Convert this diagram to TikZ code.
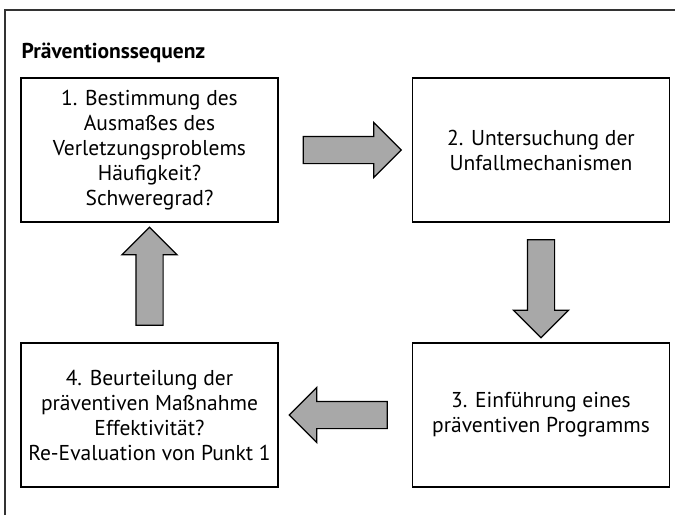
\documentclass[tikz,border=0pt]{standalone}
\usepackage{fontspec}
\setmainfont{PT Sans}
\usetikzlibrary{shapes.arrows}

\begin{document}
\begin{tikzpicture}[
  x=1pt, y=1pt,
  box/.style={rectangle, draw, line width=1.2pt, minimum width=257pt, minimum height=144pt,
    align=center, font=\fontsize{21.5}{25}\selectfont},
  flow/.style={single arrow, draw, line width=1.2pt, fill=black!34, inner sep=13pt,
    minimum height=98pt, single arrow head extend=14pt, single arrow tip angle=90},
  node distance=391.5pt
]
\useasboundingbox (0,0) rectangle (675,-515);
\draw[line width=1.3pt, black!80] (5,-515) |- (675,-10);

\node[box] (b1) at (149.5,-150) {1. Bestimmung des\\Ausmaßes des\\Verletzungsproblems\\Häufigkeit?\\Schweregrad?};
\node[box, right of=b1] (b2) {2. Untersuchung der\\Unfallmechanismen};
\node[box, below of=b2, node distance=265pt] (b3) {3. Einführung eines\\präventiven Programms};
\node[box, left of=b3] (b4) {4. Beurteilung der\\präventiven Maßnahme\\Effektivität?\\Re-Evaluation von Punkt 1};

\node[anchor=base west, inner sep=0pt, font=\fontsize{21.5}{25}\selectfont\bfseries] (title)
  at ([xshift=1pt, yshift=19pt]b1.north west) {Präventionssequenz};

\node[flow, right of=b1, node distance=196pt] (a1) {};
\node[flow, shape border rotate=270, below of=b2, node distance=132pt] (a2) {};
\node[flow, shape border rotate=180, left of=b3, node distance=196pt] (a3) {};
\node[flow, shape border rotate=90, above of=b4, node distance=132pt] (a4) {};
\end{tikzpicture}
\end{document}
